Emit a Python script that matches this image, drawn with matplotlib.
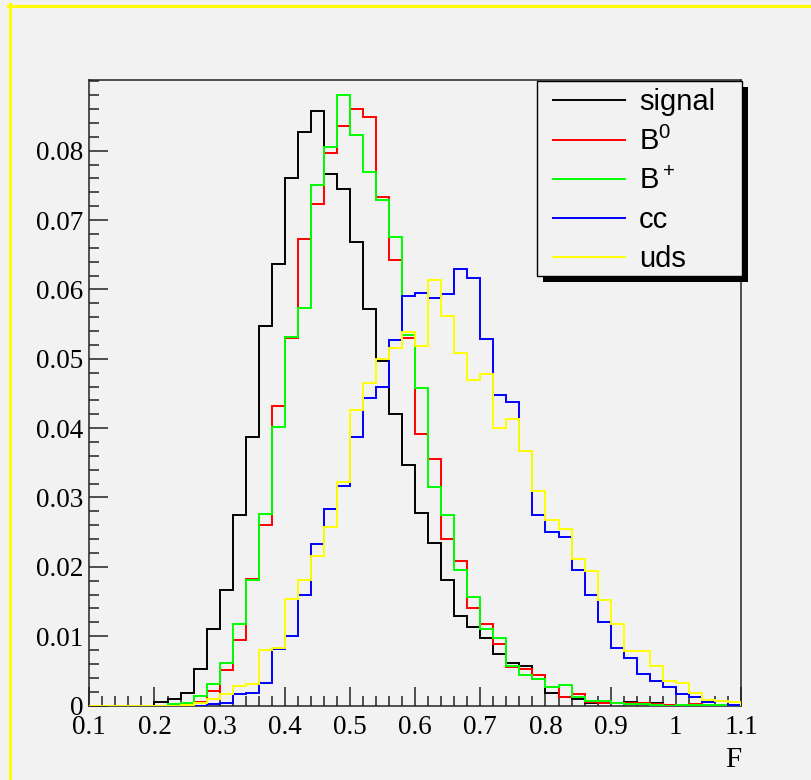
import matplotlib
matplotlib.use('Agg')
import matplotlib.pyplot as plt
import numpy as np
from matplotlib.lines import Line2D
from matplotlib.patches import Rectangle

# bins de 0.1 a 1.1, largeur 0.02
edges = np.linspace(0.1, 1.1, 51)

signal = [0, 0, 0, 0, 0, 0.0005, 0.0010, 0.0018, 0.0053, 0.0111,
          0.0167, 0.0274, 0.0387, 0.0547, 0.0637, 0.0761, 0.0827, 0.0857, 0.0766, 0.0745,
          0.0668, 0.0572, 0.0497, 0.0421, 0.0347, 0.0278, 0.0235, 0.0181, 0.0129, 0.0113,
          0.0097, 0.0074, 0.0061, 0.0057, 0.0038, 0.0018, 0.0012, 0.0009, 0.0003, 0.0004,
          0.0004, 0.0005, 0.0003, 0.0003, 0.0001, 0.0001, 0.0001, 0.0, 0.0001, 0.0]
b0 = [0, 0, 0, 0, 0, 0, 0.0001, 0.0002, 0.0005, 0.0021,
      0.0051, 0.0094, 0.0182, 0.0261, 0.0432, 0.0530, 0.0673, 0.0723, 0.0797, 0.0835,
      0.0860, 0.0848, 0.0733, 0.0643, 0.0530, 0.0392, 0.0356, 0.0240, 0.0209, 0.0141,
      0.0117, 0.0089, 0.0056, 0.0052, 0.0044, 0.0027, 0.0012, 0.0016, 0.0005, 0.0004,
      0.0003, 0.0003, 0.0003, 0.0002, 0.0001, 0.0001, 0.0002, 0.0001, 0.0001, 0.0]
bplus = [0, 0, 0, 0, 0, 0, 0.0002, 0.0004, 0.0014, 0.0031,
         0.0061, 0.0117, 0.0181, 0.0276, 0.0401, 0.0532, 0.0573, 0.0751, 0.0805, 0.0881,
         0.0822, 0.0769, 0.0729, 0.0675, 0.0534, 0.0458, 0.0315, 0.0274, 0.0196, 0.0157,
         0.0111, 0.0098, 0.0057, 0.0044, 0.0038, 0.0027, 0.0029, 0.0012, 0.0006, 0.0007,
         0.0003, 0.0002, 0.0002, 0.0001, 0.0, 0.0001, 0.0001, 0.0001, 0.0001, 0.0]
cc = [0, 0, 0, 0, 0, 0, 0, 0, 0, 0.0002,
      0.0003, 0.0016, 0.0018, 0.0033, 0.0081, 0.0100, 0.0159, 0.0233, 0.0283, 0.0316,
      0.0387, 0.0443, 0.0460, 0.0527, 0.0590, 0.0595, 0.0587, 0.0593, 0.0629, 0.0616,
      0.0528, 0.0448, 0.0438, 0.0367, 0.0274, 0.0250, 0.0243, 0.0196, 0.0159, 0.0121,
      0.0083, 0.0069, 0.0046, 0.0036, 0.0027, 0.0016, 0.0012, 0.0005, 0.0007, 0.0001]
uds = [0, 0, 0, 0, 0, 0, 0, 0.0001, 0.0003, 0.0010,
       0.0016, 0.0028, 0.0031, 0.0080, 0.0083, 0.0154, 0.0181, 0.0215, 0.0258, 0.0323,
       0.0426, 0.0465, 0.0499, 0.0516, 0.0538, 0.0518, 0.0614, 0.0562, 0.0508, 0.0469,
       0.0478, 0.0400, 0.0413, 0.0367, 0.0309, 0.0267, 0.0254, 0.0211, 0.0194, 0.0152,
       0.0117, 0.0079, 0.0079, 0.0057, 0.0036, 0.0033, 0.0018, 0.0008, 0.0007, 0.0005]

noms = ['signal', r'B$^0$', r'B$^+$', 'cc', 'uds']
couleurs = ['black', '#ff0000', '#00ff00', '#0000ff', '#ffff00']

xticks = [0.1, 0.2, 0.3, 0.4, 0.5, 0.6, 0.7, 0.8, 0.9, 1.0, 1.1]
xlabels = ['0.1', '0.2', '0.3', '0.4', '0.5', '0.6', '0.7', '0.8', '0.9', '1', '1.1']
yticks = [0, 0.01, 0.02, 0.03, 0.04, 0.05, 0.06, 0.07, 0.08]
ylabels = ['0', '0.01', '0.02', '0.03', '0.04', '0.05', '0.06', '0.07', '0.08']

fond = '#f2f2f2'
W, H = 811, 780
plt.rcParams['mathtext.fontset'] = 'custom'
plt.rcParams['mathtext.rm'] = 'Liberation Sans'
plt.rcParams['mathtext.it'] = 'Liberation Sans'

fig = plt.figure(figsize=(W / 100, H / 100), dpi=100, facecolor=fond)
ax = fig.add_axes([89.3 / W, 74.5 / H, (741 - 89.3) / W, (705.5 - 80) / H])
ax.set_facecolor(fond)

for vals, c in zip([signal, b0, bplus, cc, uds], couleurs):
    ax.stairs(vals, edges, color=c, lw=1.4, zorder=3)

ax.set_xlim(0.1, 1.1)
ax.set_ylim(0, 0.0902)

ax.set_xticks(xticks)
ax.set_xticklabels(xlabels, family='Liberation Serif', fontsize=19.5)
ax.set_yticks(yticks)
ax.set_yticklabels(ylabels, family='Liberation Serif', fontsize=19.5)
ax.set_xticks(np.arange(0.1, 1.1001, 0.02), minor=True)
ax.set_yticks(np.arange(0, 0.0901, 0.002), minor=True)
ax.tick_params(which='both', direction='in', top=False, right=False, width=1.1, color='#222222')
ax.tick_params(which='major', length=14)
ax.tick_params(which='minor', length=7)
ax.tick_params(axis='x', pad=7)
ax.tick_params(axis='y', pad=4.5)
for s in ax.spines.values():
    s.set_linewidth(1.1)
    s.set_color('#222222')

ax.set_xlabel('F', loc='right', family='Liberation Serif', fontsize=21, labelpad=5)

# légende façon ROOT : cadre + ombre dessinés à part
ombre = Rectangle((543 / W, 1 - 282 / H), 205 / W, 195 / H, transform=fig.transFigure,
                  facecolor='black', edgecolor='none', zorder=5.8, clip_on=False)
cadre = Rectangle((537 / W, 1 - 276 / H), 205 / W, 195 / H, transform=fig.transFigure,
                  facecolor=fond, edgecolor='black', lw=1.0, zorder=5.9, clip_on=False)
ax.add_patch(ombre)
ax.add_patch(cadre)

poignees = [Line2D([], [], color=c, lw=1.4) for c in couleurs]
leg = ax.legend(poignees, noms, loc='upper left',
                bbox_to_anchor=(553 / W, 1 - 88.5 / H),
                bbox_transform=fig.transFigure, borderaxespad=0, borderpad=0,
                prop={'family': 'Liberation Sans', 'size': 21},
                handlelength=2.47, handletextpad=0.48,
                labelspacing=0.37, frameon=False)
leg.set_zorder(6)

# bordure jaune du canvas
fig.add_artist(Line2D([9.5 / W, 9.5 / W], [0, 1 - 4 / H], color='#ffff00', lw=2.2,
                      transform=fig.transFigure))
fig.add_artist(Line2D([8 / W, 1], [1 - 5.5 / H, 1 - 5.5 / H], color='#ffff00', lw=2.2,
                      transform=fig.transFigure))

fig.savefig('out.png', dpi=100, facecolor=fond)
